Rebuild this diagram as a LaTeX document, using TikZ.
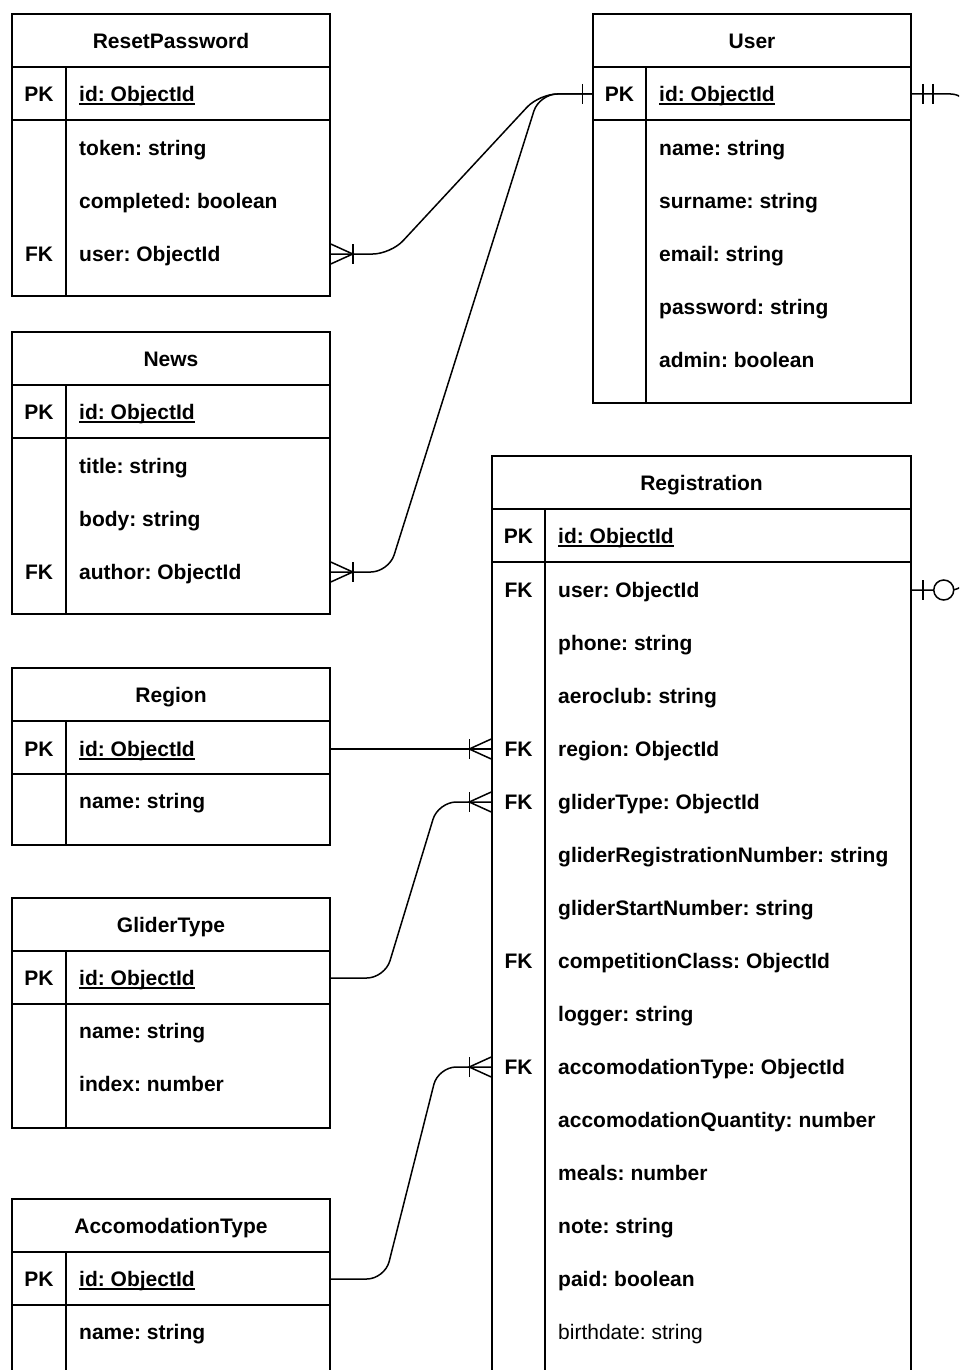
\documentclass[tikz,border=0pt]{standalone}
\usepackage{fontspec}
\setmainfont{Liberation Sans}
\usepackage{tikz}
\usetikzlibrary{calc}
\frenchspacing

\newcommand{\pkfield}[1]{\setbox0=\hbox{#1}\rlap{\rule[-3.5pt]{\wd0}{1.6pt}}\box0}

\tikzstyle{entity} = [
    rectangle,
    draw=black,
    line width=1.5pt,
    inner sep=0pt
]
\tikzstyle{title} = [
    font=\fontsize{21}{25}\selectfont\bfseries,
    inner sep=0pt,
    text height=15pt,
    text depth=0pt
]
\tikzstyle{attr} = [title, anchor=west]
\tikzstyle{key} = [title]
\tikzstyle{sep} = [line width=1.5pt]
\tikzstyle{rel} = [
    line width=1.5pt,
    rounded corners=18pt
]

\tikzset{
    many/.pic={
        \draw[sep] (0,-10) -- (22,0) -- (0,10);
        \draw[sep] (22,-10) -- (22,10);
    },
    one/.pic={
        \draw[sep] (10,-10) -- (10,10);
    },
    mandone/.pic={
        \draw[sep] (11,-10) -- (11,10);
        \draw[sep] (21,-10) -- (21,10);
    },
    zeroone/.pic={
        \draw[sep] (11,-10) -- (11,10);
        \draw[sep, fill=white] (32,0) circle (10);
    }
}

\begin{document}
\begin{tikzpicture}[x=1pt, y=-1pt]
    \path[use as bounding box] (0,0) rectangle (959,1370);
    \clip (0,0) rectangle (959,1370);

    % ResetPassword
    \node[entity, minimum width=318pt, minimum height=282pt] (rp) at (171,155) {};
    \draw[sep] (12,67) -- (330,67) (12,120) -- (330,120) (66,67) -- (66,296);
    \node[title] (rp-title) at (171,41) {ResetPassword};
    \node[key] (rp-pk) at (39,94) {PK};
    \node[attr] (rp-id) at (79,94) {\pkfield{id: ObjectId}};
    \foreach \n/\t [count=\i from 0] in {token/token: string, completed/completed: boolean, user/user: ObjectId}
        \node[attr] (rp-\n) at (79,148+53*\i) {\t};
    \node[key] (rp-fk) at (39,254) {FK};

    % News
    \node[entity, minimum width=318pt, minimum height=282pt] (news) at (171,473) {};
    \draw[sep] (12,385) -- (330,385) (12,438) -- (330,438) (66,385) -- (66,614);
    \node[title] (news-title) at (171,359) {News};
    \node[key] (news-pk) at (39,412) {PK};
    \node[attr] (news-id) at (79,412) {\pkfield{id: ObjectId}};
    \foreach \n/\t [count=\i from 0] in {title/title: string, body/body: string, author/author: ObjectId}
        \node[attr] (news-\n) at (79,466+53*\i) {\t};
    \node[key] (news-fk) at (39,572) {FK};

    % Region
    \node[entity, minimum width=318pt, minimum height=177pt] (region) at (171,756.5) {};
    \draw[sep] (12,721) -- (330,721) (12,774) -- (330,774) (66,721) -- (66,845);
    \node[title] (region-title) at (171,695) {Region};
    \node[key] (region-pk) at (39,749) {PK};
    \node[attr] (region-id) at (79,749) {\pkfield{id: ObjectId}};
    \node[attr] (region-name) at (79,801) {name: string};

    % GliderType
    \node[entity, minimum width=318pt, minimum height=230pt] (glider) at (171,1013) {};
    \draw[sep] (12,951) -- (330,951) (12,1004) -- (330,1004) (66,951) -- (66,1128);
    \node[title] (glider-title) at (171,925) {GliderType};
    \node[key] (glider-pk) at (39,978) {PK};
    \node[attr] (glider-id) at (79,978) {\pkfield{id: ObjectId}};
    \node[attr] (glider-name) at (79,1031) {name: string};
    \node[attr] (glider-index) at (79,1084) {index: number};

    % AccomodationType
    \node[entity, minimum width=318pt, minimum height=221pt] (acc) at (171,1309.5) {};
    \draw[sep] (12,1252) -- (330,1252) (12,1305) -- (330,1305) (66,1252) -- (66,1420);
    \node[title] (acc-title) at (171,1226) {AccomodationType};
    \node[key] (acc-pk) at (39,1279) {PK};
    \node[attr] (acc-id) at (79,1279) {\pkfield{id: ObjectId}};
    \node[attr] (acc-name) at (79,1332) {name: string};

    % User
    \node[entity, minimum width=318pt, minimum height=389pt] (user) at (752,208.5) {};
    \draw[sep] (593,67) -- (911,67) (593,120) -- (911,120) (646,67) -- (646,403);
    \node[title] (user-title) at (752,41) {User};
    \node[key] (user-pk) at (619.5,94) {PK};
    \node[attr] (user-id) at (659,94) {\pkfield{id: ObjectId}};
    \foreach \n/\t [count=\i from 0] in {name/name: string, surname/surname: string, email/email: string, password/password: string, admin/admin: boolean}
        \node[attr] (user-\n) at (659,148+53*\i) {\t};

    % Registration
    \node[entity, minimum width=419pt, minimum height=964pt] (reg) at (701.5,938) {};
    \draw[sep] (492,509) -- (911,509) (492,562) -- (911,562) (545,509) -- (545,1420);
    \node[title] (reg-title) at (701.5,483) {Registration};
    \node[key] (reg-pk) at (518.5,536) {PK};
    \node[attr] (reg-id) at (558,536) {\pkfield{id: ObjectId}};
    \foreach \n/\t [count=\i from 0] in {user/user: ObjectId, phone/phone: string, aeroclub/aeroclub: string,
        region/region: ObjectId, gliderType/gliderType: ObjectId,
        gliderRegistrationNumber/gliderRegistrationNumber: string,
        gliderStartNumber/gliderStartNumber: string, competitionClass/competitionClass: ObjectId,
        logger/logger: string, accomodationType/accomodationType: ObjectId,
        accomodationQuantity/accomodationQuantity: number, meals/meals: number,
        note/note: string, paid/paid: boolean}
        \node[attr] (reg-\n) at (558,590+53*\i) {\t};
    \node[attr, font=\fontsize{21}{25}\selectfont] (reg-birthdate) at (558,1332) {birthdate: string};
    \foreach \n in {user, region, gliderType, competitionClass, accomodationType}
        \node[key] (reg-fk-\n) at (518.5,0 |- reg-\n) {FK};

    % Relations
    \draw[rel] (rp-user -| rp.east) -- ++(60,0) -- ($(user-id -| user.west)+(-53,0)$) -- (user-id -| user.west);
    \draw[rel] (news-author -| news.east) -- ++(58,0) -- ($(user-id -| user.west)+(-53,0)$) -- (user-id -| user.west);
    \draw[rel] (user-id -| user.east) -- ++(57,0) -- ($(reg-user -| reg.east)+(57,0)$) -- (reg-user -| reg.east);
    \draw[rel] (region-id -| region.east) -- (reg-region -| reg.west);
    \draw[rel] (glider-id -| glider.east) -- ++(54,0) -- ($(reg-gliderType -| reg.west)+(-53,0)$) -- (reg-gliderType -| reg.west);
    \draw[rel] (acc-id -| acc.east) -- ++(54,0) -- ($(reg-accomodationType -| reg.west)+(-53,0)$) -- (reg-accomodationType -| reg.west);

    % Ends
    \pic at (rp-user -| rp.east) {many};
    \pic at (news-author -| news.east) {many};
    \pic[xscale=-1] at (user-id -| user.west) {one};
    \pic at (user-id -| user.east) {mandone};
    \pic at (reg-user -| reg.east) {zeroone};
    \pic[xscale=-1] at (reg-region -| reg.west) {many};
    \pic[xscale=-1] at (reg-gliderType -| reg.west) {many};
    \pic[xscale=-1] at (reg-accomodationType -| reg.west) {many};
\end{tikzpicture}
\end{document}
